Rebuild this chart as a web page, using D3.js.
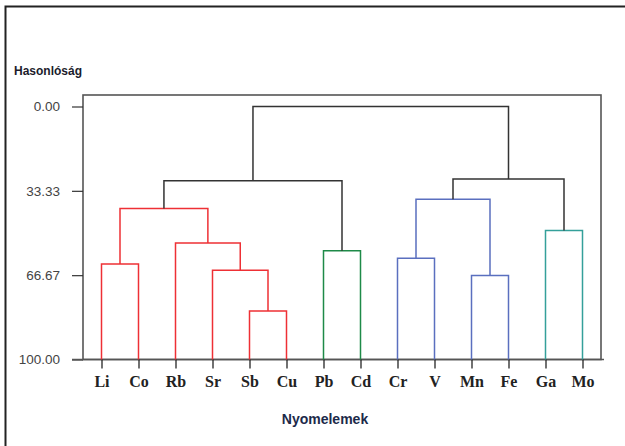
<!DOCTYPE html>
<html>
<head>
<meta charset="utf-8">
<script src="https://cdn.jsdelivr.net/npm/d3@7"></script>
<style>
  body { margin: 0; background: #fff; }
  svg { display: block; }
</style>
</head>
<body>
<div id="chart"></div>
<script>
// leaves, left to right
var leaves = ["Li", "Co", "Rb", "Sr", "Sb", "Cu", "Pb", "Cd", "Cr", "V", "Mn", "Fe", "Ga", "Mo"]

// merges: child a, child b, similarity level, cluster
// ids 0..13 are the leaves, new nodes get 14, 15, ...
var mergeA = [4, 10, 3, 0, 8, 6, 2, 12, 17, 18, 22, 23, 24]
var mergeB = [5, 11, 14, 1, 9, 7, 16, 13, 20, 15, 19, 21, 25]
var mergeLevel = [80.8, 66.8, 64.7, 62.3, 60.0, 57.0, 54.0, 49.0, 40.3, 36.7, 29.3, 28.7, 0.0]
var mergeGroup = ["red", "blue", "red", "red", "blue", "green", "red", "teal", "red", "blue", "none", "none", "none"]

var yTicks = [0, 33.33, 66.67, 100]

var colors = {
  red: "#ee3035",
  blue: "#5a6fbf",
  green: "#1e8a48",
  teal: "#34a09a",
  none: "#333"
}

var W = 625, H = 446

var svg = d3.select("#chart").append("svg")
  .attr("width", W)
  .attr("height", H)

// outer frame (only top and left edges show)
svg.append("path")
  .attr("d", "M5.5,446 V6.5 H625")
  .attr("fill", "none")
  .attr("stroke", "#222")
  .attr("stroke-width", 2)

var x = d3.scalePoint()
  .domain(leaves)
  .range([83, 601])
  .padding(0.5)

var y = d3.scaleLinear()
  .domain([0, 100])
  .range([106.5, 359.5])

// node positions
var nodeX = leaves.map(d => x(d))
var nodeY = leaves.map(d => y(100))
mergeA.forEach(function (a, i) {
  var b = mergeB[i]
  nodeX.push((nodeX[a] + nodeX[b]) / 2)
  nodeY.push(y(mergeLevel[i]))
})

// plot box
svg.append("rect")
  .attr("x", 83)
  .attr("y", 95)
  .attr("width", 601 - 83)
  .attr("height", 359.5 - 95)
  .attr("fill", "none")
  .attr("stroke", "#555")
  .attr("stroke-width", 1.6)

// y axis
var yAxis = svg.append("g")
  .attr("transform", "translate(83,0)")
  .call(d3.axisLeft(y).tickValues(yTicks).tickFormat(d3.format(".2f")).tickSize(11).tickSizeOuter(0))
yAxis.select(".domain").remove()
yAxis.selectAll(".tick line").attr("stroke", "#333").attr("stroke-width", 1.2)
yAxis.selectAll(".tick text")
  .attr("x", -23)
  .attr("fill", "#444")
  .style("font-family", "'Liberation Sans', Arial, sans-serif")
  .style("font-size", "13.5px")

// x axis line under the plot
svg.append("line")
  .attr("x1", 72).attr("x2", 604)
  .attr("y1", 359.5).attr("y2", 359.5)
  .attr("stroke", "#555")
  .attr("stroke-width", 1.6)

var xAxis = svg.append("g")
  .attr("transform", "translate(0,359.5)")
  .call(d3.axisBottom(x).tickSize(9).tickSizeOuter(0))
xAxis.select(".domain").remove()
xAxis.selectAll(".tick line").attr("stroke", "#111").attr("stroke-width", 1.2)
xAxis.selectAll(".tick text")
  .attr("y", 16)
  .attr("fill", "#222")
  .style("font-family", "'Liberation Serif', 'Times New Roman', serif")
  .style("font-weight", "bold")
  .style("font-size", "16px")

// dendrogram links
var links = svg.append("g")
  .attr("fill", "none")
  .attr("stroke-width", 1.5)

mergeA.forEach(function (a, i) {
  var b = mergeB[i]
  var yy = y(mergeLevel[i])
  links.append("path")
    .attr("d", "M" + nodeX[a] + "," + nodeY[a] + "V" + yy + "H" + nodeX[b] + "V" + nodeY[b])
    .attr("stroke", colors[mergeGroup[i]])
})

// titles
svg.append("text")
  .attr("x", 14)
  .attr("y", 75)
  .attr("fill", "#1c1c2c")
  .style("font-family", "'Liberation Sans', Arial, sans-serif")
  .style("font-weight", "bold")
  .style("font-size", "12px")
  .text("Hasonlóság")

svg.append("text")
  .attr("x", 325)
  .attr("y", 424)
  .attr("text-anchor", "middle")
  .attr("fill", "#1c2a4a")
  .style("font-family", "'Liberation Sans', Arial, sans-serif")
  .style("font-weight", "bold")
  .style("font-size", "14px")
  .text("Nyomelemek")
</script>
</body>
</html>
